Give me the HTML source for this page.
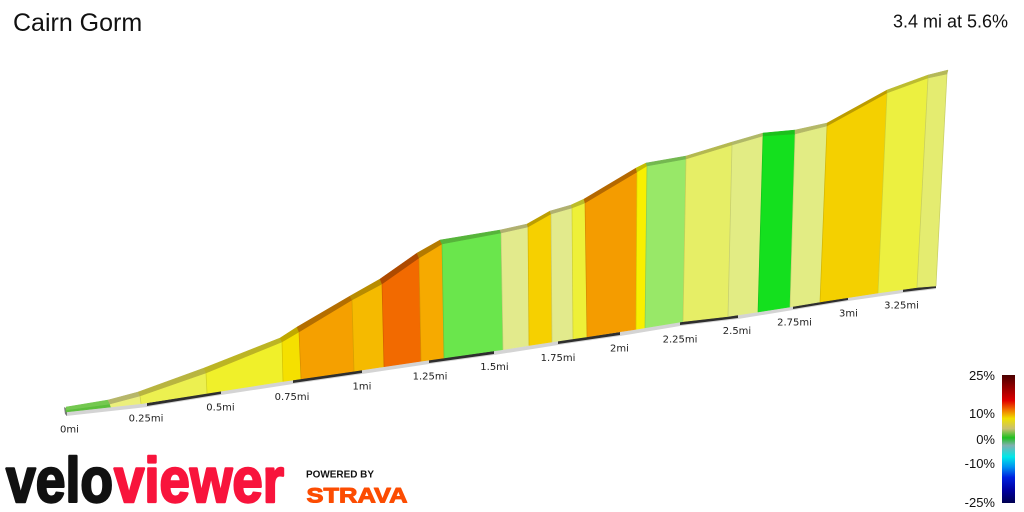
<!DOCTYPE html>
<html><head><meta charset="utf-8"><style>
html,body{margin:0;padding:0;background:#fff;}
svg{display:block;}
</style></head><body>
<svg width="1024" height="512" viewBox="0 0 1024 512" xmlns="http://www.w3.org/2000/svg">
<defs>
<linearGradient id="lg" x1="0" y1="0" x2="0" y2="1">
<stop offset="0" stop-color="#4a0000"/>
<stop offset="0.07" stop-color="#800000"/>
<stop offset="0.2" stop-color="#e00000"/>
<stop offset="0.27" stop-color="#f07000"/>
<stop offset="0.34" stop-color="#f0e000"/>
<stop offset="0.42" stop-color="#c8c070"/>
<stop offset="0.49" stop-color="#20c020"/>
<stop offset="0.55" stop-color="#80b0b0"/>
<stop offset="0.64" stop-color="#00e8e8"/>
<stop offset="0.72" stop-color="#0090f0"/>
<stop offset="0.8" stop-color="#0020e0"/>
<stop offset="0.9" stop-color="#0000a0"/>
<stop offset="1" stop-color="#000050"/>
</linearGradient>
</defs>
<rect width="1024" height="512" fill="#fff"/>
<text x="13" y="31" font-family="Liberation Sans, Arial, sans-serif" font-size="25" fill="#111">Cairn Gorm</text>
<text x="1008" y="27.5" text-anchor="end" font-family="Liberation Sans, Arial, sans-serif" font-size="18" fill="#111">3.4 mi at 5.6%</text>

<!-- baseline strip -->
<polygon fill="#d4d4d4" points="66,412 147,403 221,391 293,380 362,370 429,360 494,351 558,341 620,332 680,322 738,315 793,306 848,297 903,289 936,285 936,289 903,293 848,301 793,310 738,319 680,326 620,336 558,345 494,355 429,364 362,374 293,384 221,395 147,407 66,416"/>
<g fill="#2e2e2e">
<polygon points="147,403 221,391 221,394 147,406"/>
<polygon points="293,380 362,370 362,373 293,383"/>
<polygon points="429,360 494,351 494,354 429,363"/>
<polygon points="558,341 620,332 620,335 558,344"/>
<polygon points="680,322 738,315 738,318 680,325"/>
<polygon points="793,306 848,297 848,300 793,309"/>
<polygon points="903,289 936,285 936,288 903,292"/>
</g>
<polygon fill="#777" points="64,407 67,409 67,416 65,414"/>

<!-- faces -->
<g stroke-width="0.6" stroke-linejoin="round">
<polygon fill="#5cbf3c" stroke="#5cbf3c" points="66,410 110,404 111,407 66,412"/>
<polygon fill="#ecef7c" stroke="#ecef7c" points="110,404 140,396 141,403.7 111,407"/>
<polygon fill="#ecf050" stroke="#ecf050" points="140,396 206,373 207,393.3 141,403.7"/>
<polygon fill="#f0f02a" stroke="#f0f02a" points="206,373 282,342 283,381.5 207,393.3"/>
<polygon fill="#f5e000" stroke="#f5e000" points="282,342 299,332 301,378.8 283,381.5"/>
<polygon fill="#f5a000" stroke="#f5a000" points="299,332 352,300 354,371.2 301,378.8"/>
<polygon fill="#f5ba00" stroke="#f5ba00" points="352,300 382,284 384,366.7 354,371.2"/>
<polygon fill="#f26a00" stroke="#f26a00" points="382,284 419,258 421,361.2 384,366.7"/>
<polygon fill="#f6aa00" stroke="#f6aa00" points="419,258 442,244 444,357.9 421,361.2"/>
<polygon fill="#6ae64c" stroke="#6ae64c" points="442,244 501,233 503,349.6 444,357.9"/>
<polygon fill="#e2ea8c" stroke="#e2ea8c" points="501,233 528,227 529,345.5 503,349.6"/>
<polygon fill="#f6d000" stroke="#f6d000" points="528,227 551,214 552,341.9 529,345.5"/>
<polygon fill="#e2ea8c" stroke="#e2ea8c" points="551,214 572,208 573,338.8 552,341.9"/>
<polygon fill="#eef038" stroke="#eef038" points="572,208 585,203 587,336.8 573,338.8"/>
<polygon fill="#f49c00" stroke="#f49c00" points="585,203 637,172 636,329.3 587,336.8"/>
<polygon fill="#f8f000" stroke="#f8f000" points="637,172 647,166 645,327.8 636,329.3"/>
<polygon fill="#98e868" stroke="#98e868" points="647,166 686,159 683,321.6 645,327.8"/>
<polygon fill="#e6ee66" stroke="#e6ee66" points="686,159 732,145 728,316.5 683,321.6"/>
<polygon fill="#e2ec84" stroke="#e2ec84" points="732,145 763,136 758,312 728,316.5"/>
<polygon fill="#14e01e" stroke="#14e01e" points="763,136 795,134 790,307 758,312"/>
<polygon fill="#e2ec84" stroke="#e2ec84" points="795,134 827,126 820,302 790,307"/>
<polygon fill="#f4d000" stroke="#f4d000" points="827,126 887,93 878,293 820,302"/>
<polygon fill="#ecf040" stroke="#ecf040" points="887,93 928,78 917,287.5 878,293"/>
<polygon fill="#e4ec70" stroke="#e4ec70" points="928,78 947,74 936,286 917,287.5"/>
</g>
<!-- boundary lines -->
<g stroke="rgba(0,0,0,0.12)" stroke-width="0.8">
<line x1="140" y1="396" x2="141" y2="403.7"/>
<line x1="206" y1="373" x2="207" y2="393.3"/>
<line x1="282" y1="342" x2="283" y2="381.5"/>
<line x1="299" y1="332" x2="301" y2="378.8"/>
<line x1="352" y1="300" x2="354" y2="371.2"/>
<line x1="382" y1="284" x2="384" y2="366.7"/>
<line x1="419" y1="258" x2="421" y2="361.2"/>
<line x1="442" y1="244" x2="444" y2="357.9"/>
<line x1="501" y1="233" x2="503" y2="349.6"/>
<line x1="528" y1="227" x2="529" y2="345.5"/>
<line x1="551" y1="214" x2="552" y2="341.9"/>
<line x1="572" y1="208" x2="573" y2="338.8"/>
<line x1="585" y1="203" x2="587" y2="336.8"/>
<line x1="637" y1="172" x2="636" y2="329.3"/>
<line x1="647" y1="166" x2="645" y2="327.8"/>
<line x1="686" y1="159" x2="683" y2="321.6"/>
<line x1="732" y1="145" x2="728" y2="316.5"/>
<line x1="763" y1="136" x2="758" y2="312"/>
<line x1="795" y1="134" x2="790" y2="307"/>
<line x1="827" y1="126" x2="820" y2="302"/>
<line x1="887" y1="93" x2="878" y2="293"/>
<line x1="928" y1="78" x2="917" y2="287.5"/>
<line x1="947" y1="74" x2="936" y2="286"/>
</g>
<!-- top strips -->
<g stroke-width="0.5" stroke-linejoin="round">
<polygon fill="#74c850" stroke="#74c850" points="66,410 110,404 108,400 66,407"/>
<polygon fill="#b6b66a" stroke="#b6b66a" points="110,404 140,396 138,392 108,400"/>
<polygon fill="#b8b440" stroke="#b8b440" points="140,396 206,373 204,368 138,392"/>
<polygon fill="#bcb424" stroke="#bcb424" points="206,373 282,342 280,338 204,368"/>
<polygon fill="#c0a800" stroke="#c0a800" points="282,342 299,332 297,327 280,338"/>
<polygon fill="#b46e00" stroke="#b46e00" points="299,332 352,300 350,296 297,327"/>
<polygon fill="#b88c00" stroke="#b88c00" points="352,300 382,284 380,279 350,296"/>
<polygon fill="#ae4a00" stroke="#ae4a00" points="382,284 419,258 417,253 380,279"/>
<polygon fill="#b47a00" stroke="#b47a00" points="419,258 442,244 440,240 417,253"/>
<polygon fill="#56b43a" stroke="#56b43a" points="442,244 501,233 500,230 440,240"/>
<polygon fill="#b0b070" stroke="#b0b070" points="501,233 528,227 527,224 500,230"/>
<polygon fill="#bc9e00" stroke="#bc9e00" points="528,227 551,214 550,211 527,224"/>
<polygon fill="#b0b070" stroke="#b0b070" points="551,214 572,208 571,205 550,211"/>
<polygon fill="#bcbc28" stroke="#bcbc28" points="572,208 585,203 584,199 571,205"/>
<polygon fill="#b46800" stroke="#b46800" points="585,203 637,172 636,168 584,199"/>
<polygon fill="#c4bc00" stroke="#c4bc00" points="637,172 647,166 646,163 636,168"/>
<polygon fill="#74b850" stroke="#74b850" points="647,166 686,159 686,156 646,163"/>
<polygon fill="#b4b850" stroke="#b4b850" points="686,159 732,145 732,142 686,156"/>
<polygon fill="#b0b868" stroke="#b0b868" points="732,145 763,136 763,133 732,142"/>
<polygon fill="#1cc01c" stroke="#1cc01c" points="763,136 795,134 795,130 763,133"/>
<polygon fill="#b4b868" stroke="#b4b868" points="795,134 827,126 827,123 795,130"/>
<polygon fill="#bc9c00" stroke="#bc9c00" points="827,126 887,93 887,90 827,123"/>
<polygon fill="#bcbc30" stroke="#bcbc30" points="887,93 928,78 928,75 887,90"/>
<polygon fill="#b4b858" stroke="#b4b858" points="928,78 947,74 948,70 928,75"/>
</g>

<!-- distance labels -->
<g font-family="DejaVu Sans, Verdana, sans-serif" font-size="10" fill="#222" text-anchor="middle">
<text x="69.5" y="432.7">0mi</text>
<text x="146" y="421.7">0.25mi</text>
<text x="220.5" y="410.7">0.5mi</text>
<text x="292" y="400">0.75mi</text>
<text x="362" y="389.3">1mi</text>
<text x="430" y="379.3">1.25mi</text>
<text x="494.5" y="370">1.5mi</text>
<text x="558" y="361">1.75mi</text>
<text x="619.5" y="351.7">2mi</text>
<text x="680" y="342.7">2.25mi</text>
<text x="737" y="334">2.5mi</text>
<text x="794.5" y="325.7">2.75mi</text>
<text x="848.5" y="316.7">3mi</text>
<text x="901.5" y="308.3">3.25mi</text>
</g>

<!-- legend -->
<rect x="1002" y="375" width="13" height="128" fill="url(#lg)"/>
<g font-family="Liberation Sans, Arial, sans-serif" font-size="13" fill="#111" text-anchor="end">
<text x="995" y="380">25%</text>
<text x="995" y="418">10%</text>
<text x="995" y="444">0%</text>
<text x="995" y="468">-10%</text>
<text x="995" y="507">-25%</text>
</g>

<!-- logo -->
<text x="6" y="502" font-family="Liberation Sans, Arial, sans-serif" font-weight="bold" font-size="63" fill="#111" stroke="#111" stroke-width="2.4" stroke-linejoin="round" textLength="107" lengthAdjust="spacingAndGlyphs">velo</text>
<text x="114" y="502" font-family="Liberation Sans, Arial, sans-serif" font-weight="bold" font-size="63" fill="#f8143c" stroke="#f8143c" stroke-width="2.4" stroke-linejoin="round" textLength="170" lengthAdjust="spacingAndGlyphs">viewer</text>
<text x="306" y="477.5" font-family="Liberation Sans, Arial, sans-serif" font-weight="bold" font-size="10" fill="#111" textLength="68" lengthAdjust="spacingAndGlyphs">POWERED BY</text>
<text x="306.5" y="502.5" font-family="Liberation Sans, Arial, sans-serif" font-weight="bold" font-size="21" fill="#fc4c02" stroke="#fc4c02" stroke-width="1" stroke-linejoin="round" textLength="101" lengthAdjust="spacingAndGlyphs">STRAVA</text>
</svg>
</body></html>
